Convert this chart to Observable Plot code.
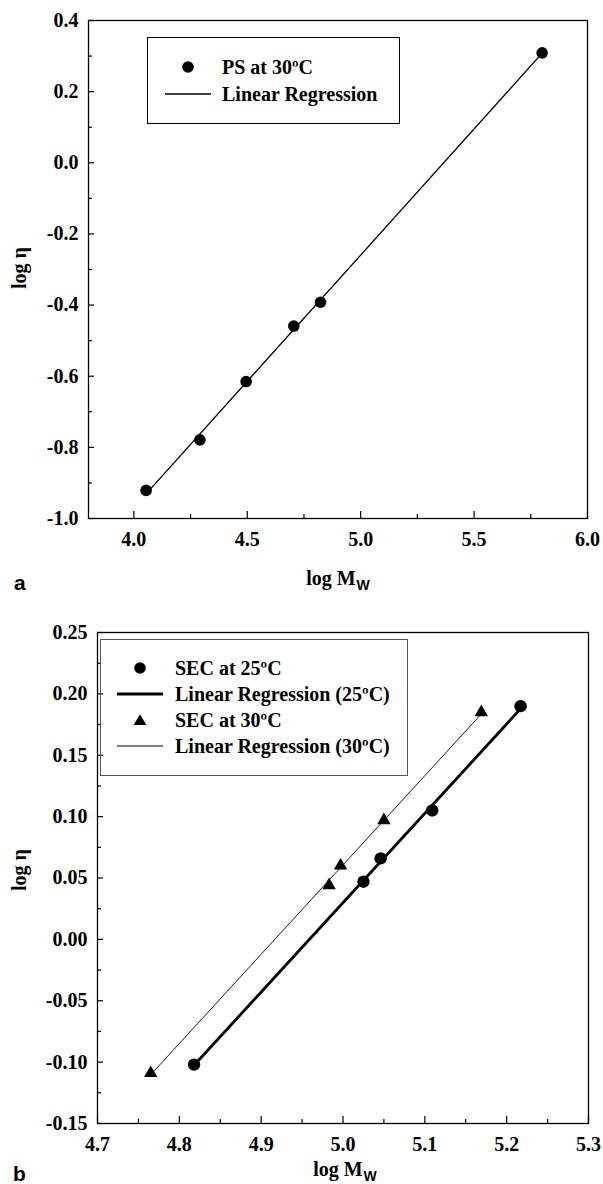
<!DOCTYPE html>
<html><head><meta charset="utf-8">
<script src="https://cdn.jsdelivr.net/npm/d3@7"></script>
<script src="https://cdn.jsdelivr.net/npm/@observablehq/plot@0.6"></script>
<style>
body{margin:0;background:#fff;}
#c{position:relative;width:603px;height:1184px;overflow:hidden;font-family:'Liberation Serif','Times New Roman',serif;font-weight:bold;color:#000;background:#fff;}
#c svg.pan text{font-family:'Liberation Serif','Times New Roman',serif !important;font-weight:bold !important;font-size:20px !important;fill:#000;}
.abs{position:absolute;white-space:nowrap;}
.t{font-size:20px;line-height:20px;}
.pan{position:absolute;left:0;}
</style></head><body><div id="c"></div>
<script>
// ---- data: panel a ----
const psLogMw = [4.054, 4.291, 4.495, 4.705, 4.823, 5.800];
const psLogEta = [-0.921, -0.779, -0.615, -0.459, -0.392, 0.309];
// ---- data: panel b ----
const sec25LogMw = [4.818, 5.025, 5.046, 5.109, 5.217];
const sec25LogEta = [-0.102, 0.047, 0.066, 0.105, 0.190];
const sec30LogMw = [4.765, 4.983, 4.997, 5.050, 5.169];
const sec30LogEta = [-0.109, 0.044, 0.060, 0.097, 0.185];
// ---- ticks ----
const xTicksA = [4.0, 4.5, 5.0, 5.5, 6.0];
const xMinorA = [4.25, 4.75, 5.25, 5.75];
const yTicksA = [-1.0, -0.8, -0.6, -0.4, -0.2, 0.0, 0.2, 0.4];
const yMinorA = [-0.9, -0.7, -0.5, -0.3, -0.1, 0.1, 0.3];
const xTicksB = [4.7, 4.8, 4.9, 5.0, 5.1, 5.2, 5.3];
const xMinorB = [4.75, 4.85, 4.95, 5.05, 5.15, 5.25];
const yTicksB = [-0.15, -0.10, -0.05, 0.00, 0.05, 0.10, 0.15, 0.20, 0.25];
const yMinorB = [-0.125, -0.075, -0.025, 0.025, 0.075, 0.125, 0.175, 0.225];
// ---- labels ----
const legendA = ["PS at 30ºC", "Linear Regression"];
const legendB = ["SEC at 25ºC", "Linear Regression (25ºC)", "SEC at 30ºC", "Linear Regression (30ºC)"];

const zip = (xs, ys) => xs.map((x, i) => ({x, y: ys[i]}));
const psData = zip(psLogMw, psLogEta);
const d25 = zip(sec25LogMw, sec25LogEta);
const d30 = zip(sec30LogMw, sec30LogEta);

const SERIF = "'Liberation Serif','Times New Roman',serif";
const W = 603, H = 592;
function panel({xd, yd, ml, mr, mt, mb, xt, xm, yt, ym, fx, fy, marks}) {
  const pw = W - ml - mr, ph = H - mt - mb;
  const txt = {fontFamily: SERIF, fontSize: 20, fontWeight: "bold", fill: "black"};
  return Plot.plot({
    className: "pan",
    width: W, height: H, marginLeft: ml, marginRight: mr, marginTop: mt, marginBottom: mb,
    style: {fontFamily: SERIF, fontSize: "20px", fontWeight: "bold", color: "black", background: "white", overflow: "visible"},
    x: {domain: xd}, y: {domain: yd},
    marks: [
      Plot.tickX(xt, {x: d => d, insetTop: ph - 7, stroke: "black", strokeWidth: 1.2}),
      Plot.tickX(xm, {x: d => d, insetTop: ph - 4, stroke: "black", strokeWidth: 1.2}),
      Plot.tickY(yt, {y: d => d, insetRight: pw - 6, stroke: "black", strokeWidth: 1.2}),
      Plot.tickY(ym, {y: d => d, insetRight: pw - 4, stroke: "black", strokeWidth: 1.2}),
      Plot.axisX({ticks: xt, tickSize: 0, tickPadding: 13, tickFormat: fx, label: null, ...txt}),
      Plot.axisY({ticks: yt, tickSize: 0, tickPadding: 10, tickFormat: fy, label: null, ...txt}),
      ...marks,
      Plot.frame({stroke: "black", strokeWidth: 1.3})
    ]
  });
}

const c = document.getElementById("c");

const pA = panel({
  xd: [3.8, 6.0], yd: [-1.0, 0.4], ml: 88, mr: 16, mt: 20, mb: 74,
  xt: xTicksA, xm: xMinorA, yt: yTicksA, ym: yMinorA,
  fx: d => d.toFixed(1), fy: d => d.toFixed(1),
  marks: [
    Plot.linearRegressionY(psData, {x: "x", y: "y", ci: 0, stroke: "black", strokeWidth: 1.3}),
    Plot.dot(psData, {x: "x", y: "y", r: 5.8, fill: "black", stroke: "none"})
  ]
});
pA.classList.add("pan"); pA.style.top = "0px";
c.appendChild(pA);

const pB = panel({
  xd: [4.7, 5.3], yd: [-0.15, 0.25], ml: 97, mr: 15, mt: 40, mb: 61,
  xt: xTicksB, xm: xMinorB, yt: yTicksB, ym: yMinorB,
  fx: d => d.toFixed(1), fy: d => d.toFixed(2),
  marks: [
    Plot.linearRegressionY(d30, {x: "x", y: "y", ci: 0, stroke: "black", strokeWidth: 0.9}),
    Plot.linearRegressionY(d25, {x: "x", y: "y", ci: 0, stroke: "black", strokeWidth: 2.8}),
    Plot.dot(d25, {x: "x", y: "y", r: 6.2, fill: "black", stroke: "none"}),
    Plot.dot(d30, {x: "x", y: "y", r: 5, symbol: "triangle", fill: "black", stroke: "none"})
  ]
});
pB.classList.add("pan"); pB.style.top = "592px";
c.appendChild(pB);

// ---- HTML overlays: labels & legends ----
function add(html, style, cls = "abs t") {
  const d = document.createElement("div");
  d.className = cls; d.innerHTML = html;
  Object.assign(d.style, style);
  c.appendChild(d); return d;
}
const mwLabel = 'log M<span style="font-family:\'Liberation Sans\',Arial,sans-serif;font-size:14px;position:relative;top:5px;margin-left:1px">W</span>';
// panel a axis labels
add("log η", {left: "19px", top: "268px", transform: "translate(-50%,-50%) rotate(-90deg)"});
add(mwLabel, {left: "338px", top: "568px", transform: "translateX(-50%)"});
add("a", {left: "14px", top: "572px", fontFamily: "'Liberation Sans',Arial,sans-serif", fontSize: "21px", lineHeight: "21px"});
// panel b axis labels
add("log η", {left: "19px", top: "870px", transform: "translate(-50%,-50%) rotate(-90deg)"});
add(mwLabel, {left: "345px", top: "1159px", transform: "translateX(-50%)"});
add("b", {left: "13px", top: "1163px", fontFamily: "'Liberation Sans',Arial,sans-serif", fontSize: "21px", lineHeight: "21px"});

function sym(kind, w) {
  if (kind === "circle") return `<svg width="16" height="16" style="position:absolute;left:-8px;top:-8px"><circle cx="8" cy="8" r="5.8" fill="black"/></svg>`;
  if (kind === "triangle") return `<svg width="16" height="16" style="position:absolute;left:-8px;top:-8px"><path d="M8,2.2 L14.4,13 L1.6,13 Z" fill="black"/></svg>`;
  return `<svg width="46" height="6" style="position:absolute;left:-23px;top:-3px"><line x1="0" x2="46" y1="3" y2="3" stroke="black" stroke-width="${w}"/></svg>`;
}
function legend(box, rows, symX, textX) {
  add("", {left: box.l + "px", top: box.t + "px", width: box.w + "px", height: box.h + "px", border: box.b, boxSizing: "border-box"}, "abs");
  rows.forEach(r => {
    add(sym(r.kind, r.w), {left: symX + "px", top: r.y + "px", width: "0", height: "0"}, "abs");
    add(r.text, {left: textX + "px", top: (r.y - 10) + "px"});
  });
}
legend({l: 147, t: 37, w: 253, h: 87, b: "1px solid black"}, [
  {kind: "circle", text: legendA[0], y: 67},
  {kind: "line", w: 1.3, text: legendA[1], y: 94}
], 188, 222);
legend({l: 100, t: 639, w: 308, h: 137, b: "1px solid #555"}, [
  {kind: "circle", text: legendB[0], y: 668},
  {kind: "line", w: 2.8, text: legendB[1], y: 694},
  {kind: "triangle", text: legendB[2], y: 720},
  {kind: "line", w: 1, text: legendB[3], y: 746}
], 140, 175);
</script></body></html>
